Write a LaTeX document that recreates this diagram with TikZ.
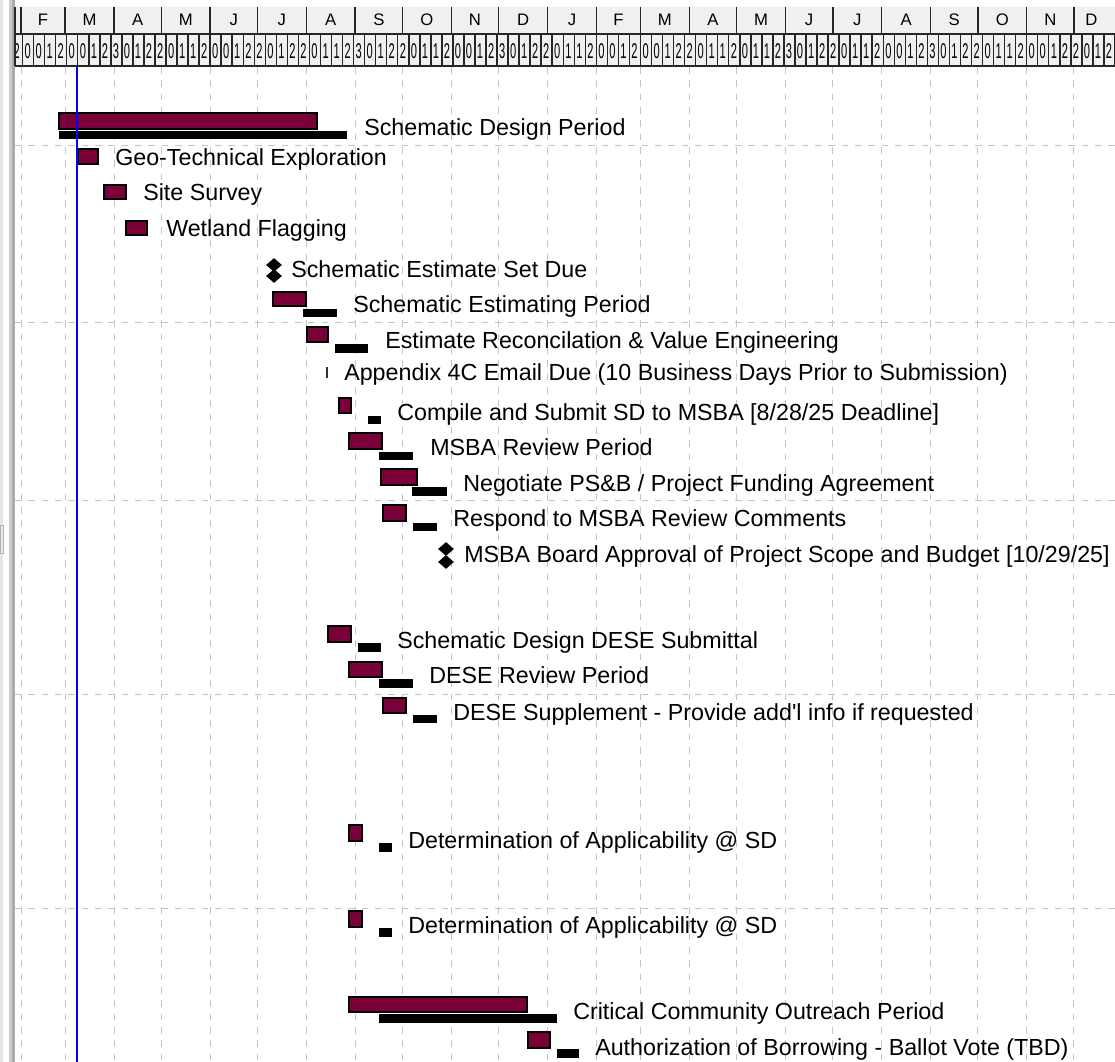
\documentclass[tikz,border=0pt]{standalone}
\usepackage{fontspec}
\setmainfont{Liberation Sans}
\usetikzlibrary{shapes.geometric}
\definecolor{barcolor}{RGB}{122,0,58}
\definecolor{headgray}{RGB}{240,240,240}
\definecolor{gridgray}{RGB}{196,196,196}
\newcommand{\dayx}[1]{21+1.5763*(#1)}
\tikzset{task/.style={draw=black,fill=barcolor,line width=0.9pt}}
\tikzset{basebar/.style={fill=black}}
\tikzset{milestone/.style={diamond,fill=black,inner sep=0pt,minimum width=12pt,minimum height=10.5pt}}
\tikzset{tasktext/.style={anchor=base west,inner sep=0pt,font=\fontsize{17.45}{20}\selectfont}}
\tikzset{month/.style={font=\fontsize{12.5}{13}\selectfont,inner sep=0pt}}
\tikzset{week/.style={anchor=west,inner sep=0pt,font=\fontsize{16}{16}\selectfont}}
\tikzset{cellline/.style={black!85,line width=1.1pt}}
\tikzset{gridline/.style={gridgray,line width=0.75pt,dash pattern=on 5pt off 5pt}}

\begin{document}
\begin{tikzpicture}[x=0.75pt,y=-0.75pt]
\useasboundingbox (0,0) rectangle (1115,1062);

% Define window frame at the left
\fill[gray!20] (0,0) rectangle (3,1062);
\fill[gray!40] (9,0) rectangle (12,1062);
\fill[gray!65] (12,0) rectangle (15,1062);
\draw[gray!60,fill=gray!15] (0,525) rectangle (3,553);

% Define grid
\foreach \d in {0,28,59,89,120,150,181,212,242,273,303,334,365,393,424,454,485,515,546,577,607,638,668}
  \draw[gridline] ({\dayx{\d}},67) -- ({\dayx{\d}},1062);
\foreach \y in {146,323,501,694,908}
  \draw[gridline] (15,\y) -- (1115,\y);

% Define timescale
\fill[headgray] (15,7) rectangle (1115,66);
\foreach \a/\b/\m [count=\i] in {0/28/F,28/59/M,59/89/A,89/120/M,120/150/J,150/181/J,181/212/A,212/242/S,242/273/O,273/303/N,303/334/D,334/365/J,365/393/F,393/424/M,424/454/A,454/485/M,485/515/J,515/546/J,546/577/A,577/607/S,607/638/O,638/668/N,668/690/D} {
  \draw[cellline] ({\dayx{\a}},7) -- ({\dayx{\a}},34);
  \node[month] (mon\i) at ({\dayx{(\a+\b)/2}},20) {\m};
}
\begin{scope}
\clip (15,34) rectangle (1115,67);
\foreach \n [count=\k from 0] in {2,0,0,1,2,0,0,1,2,3,0,1,2,2,0,1,1,2,0,0,1,2,2,0,1,2,2,0,1,1,2,3,0,1,2,2,0,1,1,2,0,0,1,2,3,0,1,2,2,0,1,1,2,0,0,1,2,0,0,1,2,2,0,1,1,2,0,1,1,2,3,0,1,2,2,0,1,1,2,0,0,1,2,3,0,1,2,2,0,1,1,2,0,0,1,2,2,0,1,2,2} {
  \draw[cellline] ({11.55+11.034*\k},34) -- ({11.55+11.034*\k},66);
  \node[week] (wk\k) at ({13.3+11.034*\k},51) {\scalebox{0.52}[1]{\n}};
}
\end{scope}
\draw[cellline] (15,7) -- (15,66);
\draw[cellline] (15,34) -- (1115,34);
\draw[cellline] (15,66) -- (1115,66);

% Define task bars
\draw[task] (59,113) rectangle (317,129);
\fill[basebar] (59,131) rectangle (347,139);
\draw[task] (78,149) rectangle (98,164);
\draw[task] (104,185) rectangle (126,199);
\draw[task] (126,221) rectangle (147,235);
\draw[task] (273,292) rectangle (306,306);
\fill[basebar] (303,309) rectangle (337,317);
\draw[task] (307,327) rectangle (328,342);
\fill[basebar] (335,344) rectangle (368,353);
\fill[black!80] (326,367) rectangle (328,378);
\draw[task] (339,398) rectangle (351,413);
\fill[basebar] (368,416) rectangle (381,424);
\draw[task] (349,433) rectangle (382,449);
\fill[basebar] (379,452) rectangle (413,460);
\draw[task] (381,469) rectangle (417,485);
\fill[basebar] (412,487) rectangle (447,496);
\draw[task] (383,505) rectangle (406,521);
\fill[basebar] (413,523) rectangle (437,531);
\draw[task] (328,626) rectangle (351,642);
\fill[basebar] (358,643) rectangle (381,652);
\draw[task] (349,662) rectangle (382,677);
\fill[basebar] (379,679) rectangle (413,688);
\draw[task] (383,698) rectangle (406,713);
\fill[basebar] (413,715) rectangle (437,723);
\draw[task] (349,825) rectangle (362,841);
\fill[basebar] (379,843) rectangle (392,852);
\draw[task] (349,911) rectangle (362,927);
\fill[basebar] (379,928) rectangle (392,937);
\draw[task] (349,997) rectangle (527,1012);
\fill[basebar] (379,1014) rectangle (557,1023);
\draw[task] (528,1032) rectangle (550,1048);
\fill[basebar] (557,1049) rectangle (579,1058);

% Define milestones
\node[milestone] (sed1) at (274,265) {};
\node[milestone] (sed2) at (274,276) {};
\node[milestone] (msba1) at (446,549) {};
\node[milestone] (msba2) at (446,562) {};

% Define status date
\draw[blue,line width=1.1pt] (77,67) -- (77,1062);

% Add task names
\node[tasktext] (t1) at (364,136) {Schematic Design Period};
\node[tasktext] (t2) at (115,166) {Geo-Technical Exploration};
\node[tasktext] (t3) at (143,201) {Site Survey};
\node[tasktext] (t4) at (166,237) {Wetland Flagging};
\node[tasktext] (t5) at (291,278) {Schematic Estimate Set Due};
\node[tasktext] (t6) at (353,313) {Schematic Estimating Period};
\node[tasktext] (t7) at (385,349) {Estimate Reconcilation \& Value Engineering};
\node[tasktext] (t8) at (344,381) {Appendix 4C Email Due (10 Business Days Prior to Submission)};
\node[tasktext] (t9) at (397,421) {Compile and Submit SD to MSBA [8/28/25 Deadline]};
\node[tasktext] (t10) at (430,456) {MSBA Review Period};
\node[tasktext] (t11) at (463,492) {Negotiate PS\&B / Project Funding Agreement};
\node[tasktext] (t12) at (453,527) {Respond to MSBA Review Comments};
\node[tasktext] (t13) at (464,563) {MSBA Board Approval of Project Scope and Budget [10/29/25]};
\node[tasktext] (t15) at (397,648) {Schematic Design DESE Submittal};
\node[tasktext] (t16) at (429,684) {DESE Review Period};
\node[tasktext] (t17) at (453,720) {DESE Supplement - Provide add\textquotesingle l info if requested};
\node[tasktext] (t20) at (408,848) {Determination of Applicability @ SD};
\node[tasktext] (t22) at (408,933) {Determination of Applicability @ SD};
\node[tasktext] (t24) at (573,1019) {Critical Community Outreach Period};
\node[tasktext] (t25) at (595,1055) {Authorization of Borrowing - Ballot Vote (TBD)};
\end{tikzpicture}
\end{document}
